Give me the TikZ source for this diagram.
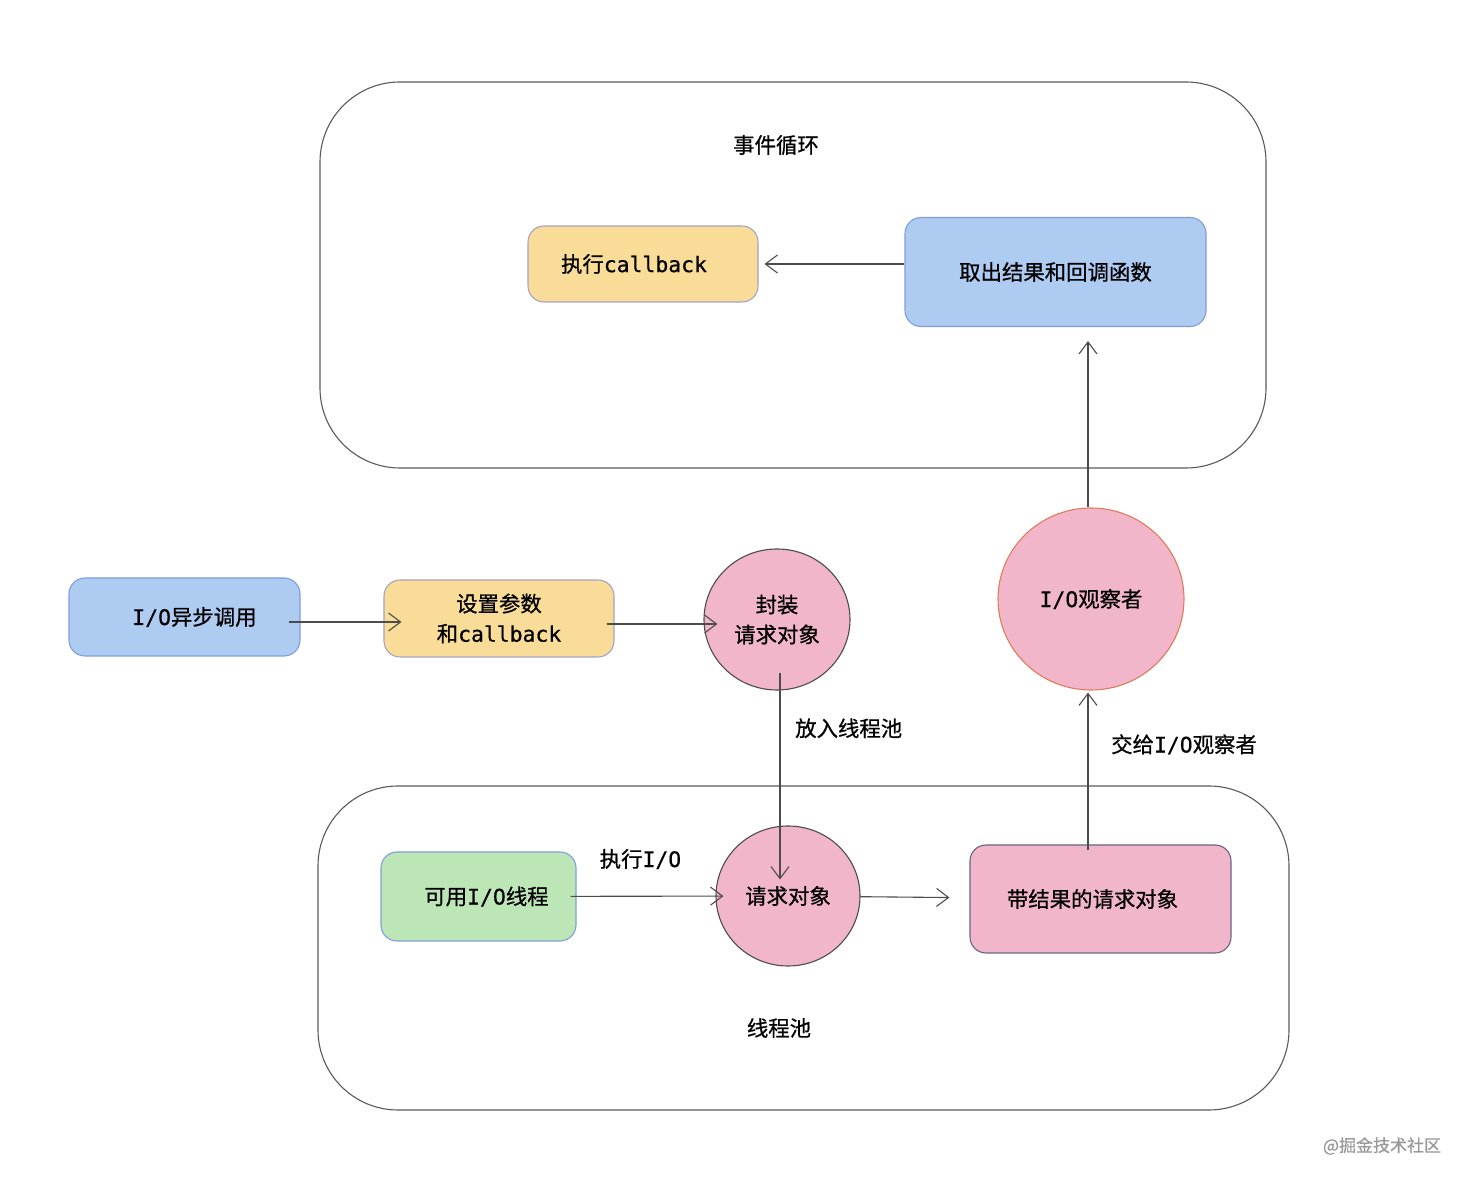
\documentclass[tikz,border=0pt]{standalone}
\usepackage{fontspec}
\setmainfont{Noto Sans CJK SC}[FakeBold=0.7]
\setmonofont{DejaVu Sans Mono}[FakeBold=0.5]
\usetikzlibrary{arrows.meta,shapes.geometric}
\definecolor{sandfill}{HTML}{F8DC98}
\definecolor{skyfill}{HTML}{AECBF2}
\definecolor{rosefill}{HTML}{F2B6CA}
\definecolor{mintfill}{HTML}{BDE6B6}
\definecolor{skyline}{HTML}{7E9EDC}
\definecolor{sandline}{HTML}{A6A2BE}
\definecolor{coralline}{HTML}{E07A5C}

\begin{document}
\begin{tikzpicture}[x=0.5pt,y=-0.5pt,->,>={Straight Barb[length=6pt,width=9pt]},
                    line width=0.55pt,font=\fontsize{10.7}{15}\selectfont]
    \tikzset{frame/.style={draw=black!65,rounded corners=40pt,inner sep=0pt},
             block/.style={draw,rounded corners=8pt,inner sep=2pt,align=center},
             blob/.style={ellipse,draw=black!70,fill=rosefill,inner sep=0pt,align=center},
             flow/.style={black!70}}
    \useasboundingbox (0,0) rectangle (1474,1186);
    % outer frames
    \node[frame,minimum width=473pt,minimum height=193pt] (loop) at (793,275) {};
    \node (looptitle) at (776,145) {事件循环};
    \node[frame,minimum width=485.5pt,minimum height=162pt] (pool) at (803.5,948) {};
    \node (pooltitle) at (779,1028) {线程池};
    % event loop
    \node[block,draw=sandline,fill=sandfill,minimum width=115pt,minimum height=38pt] (exec) at (643,264) {\hspace*{-9pt}执行\texttt{callback}};
    \node[block,draw=skyline,fill=skyfill,minimum width=150.5pt,minimum height=54.5pt] (fetch) at (1055.5,272) {取出结果和回调函数};
    % caller side
    \node[block,draw=skyline,fill=skyfill,minimum width=115.5pt,minimum height=39pt] (call) at (184.5,617) {\hspace*{10pt}\texttt{I/O}异步调用};
    \node[block,draw=sandline,fill=sandfill,minimum width=115pt,minimum height=38.5pt] (setup) at (499,618.5) {设置参数\\和\texttt{callback}};
    \node[blob,minimum width=73pt,minimum height=70.5pt] (wrap) at (777,619.5) {封装\\请求对象};
    \node[blob,draw=coralline,minimum width=93pt,minimum height=91pt] (watch) at (1091,599) {\texttt{I/O}观察者};
    % thread pool
    \node[block,draw=skyline,fill=mintfill,minimum width=97.5pt,minimum height=44.5pt] (thread) at (478.5,896.5) {\hspace*{8pt}可用\texttt{I/O}线程};
    \node[blob,minimum width=72pt,minimum height=70pt] (req) at (788,896) {请求对象};
    \node[block,draw=skyline!60!rosefill!60!black,fill=rosefill,minimum width=130.5pt,minimum height=54pt] (done) at (1100.5,899) {\hspace*{-8pt}带结果的请求对象};
    \node[text=black!40,font=\fontsize{8.5}{10}\selectfont] (mark) at (1382,1146) {@掘金技术社区};
    \path[flow]
    (call.east |- 0,622) edge[shorten <=-6pt,shorten >=-9pt] (setup.west |- 0,622)
    (setup.east |- 0,624) edge[shorten <=-4pt,shorten >=-7pt] (wrap.west |- 0,624)
    (wrap.south -| 780,0) edge[shorten <=-9pt,shorten >=-27pt] node[right=4pt,pos=0.28,black]{放入线程池} (req.north -| 780,0)
    (thread) edge[shorten <=-3pt,shorten >=-4pt] node[above=10pt,pos=0.46,black]{执行\texttt{I/O}} (req)
    (req) edge[shorten >=10pt] (done)
    (done.north -| 1088,0) edge[shorten <=-3pt,shorten >=1pt] node[right=8pt,pos=0.65,black]{交给\texttt{I/O}观察者} (watch.south -| 1088,0)
    (watch.north -| 1088,0) edge[shorten >=7pt] (fetch.south -| 1088,0)
    (fetch.west |- exec) edge[shorten >=3pt] (exec.east);
\end{tikzpicture}
\end{document}
